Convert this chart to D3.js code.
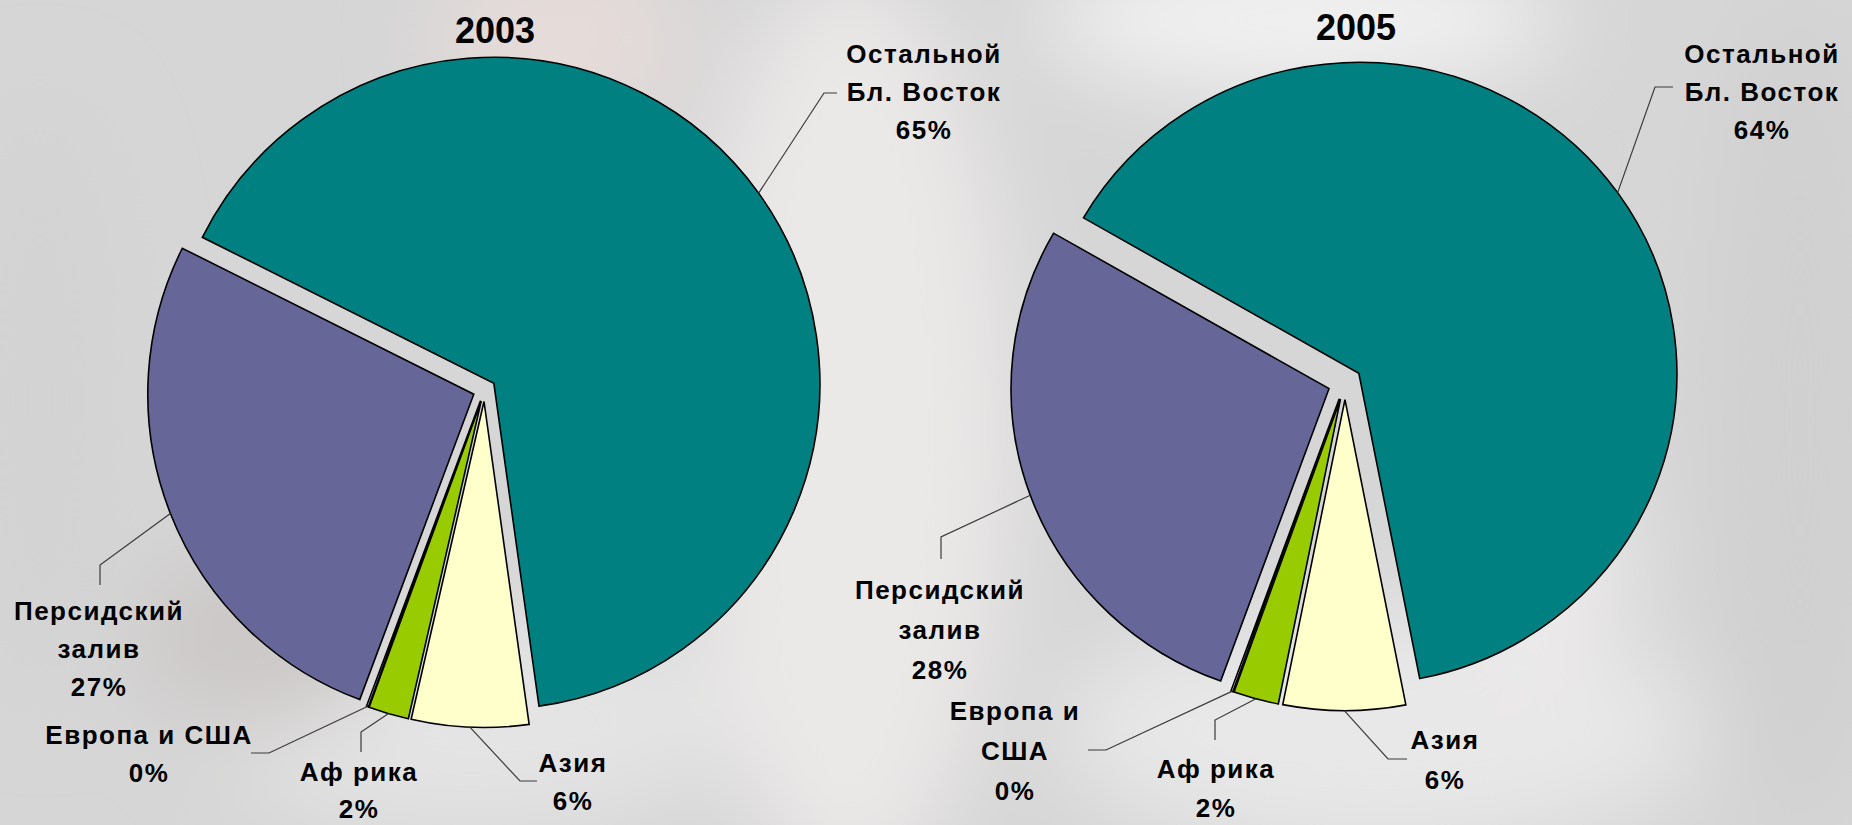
<!DOCTYPE html>
<html>
<head>
<meta charset="utf-8">
<script src="https://cdn.jsdelivr.net/npm/d3@7/dist/d3.min.js"></script>
<style>
  html, body { margin: 0; padding: 0; overflow: hidden; }
  text { font-family: "Liberation Sans", Arial, sans-serif; font-weight: bold; fill: #000; }
</style>
</head>
<body>
<div id="chart-area"></div>
<script>
// data
const years = ["2003", "2005"];
const categories = ["Остальной Бл. Восток", "Азия", "Африка", "Европа и США", "Персидский залив"];
const labels2003 = [["Остальной", "Бл. Восток"], ["Азия"], ["Аф рика"], ["Европа и США"], ["Персидский", "залив"]];
const labels2005 = [["Остальной", "Бл. Восток"], ["Азия"], ["Аф рика"], ["Европа и", "США"], ["Персидский", "залив"]];
const shares2003 = [65.4, 5.8, 2.0, 0.1, 26.7];
const shares2005 = [63.6, 6.2, 2.3, 0.1, 27.8];
const sliceColors = ["#008080", "#ffffcc", "#99cc00", "#ffffff", "#666699"];

// canvas
const canvasWidth = 1852;
const canvasHeight = 825;
const rad = Math.PI / 180;

// layout for both pies (centre, radius, explosion, vertical squash, first slice angle)
const pieLayout = [
    {cx: 484.5, cy: 390, r: 326, explode: 11.5, sy: 1, start: 296.6, titleX: 495, titleY: 43, lh: 38,
     // elbow x,y ; end x,y ; text x, first baseline
     labels: [
        {ex: 824, ey: 93, tx: 837, ty: 93, x: 924, y: 63},
        {ex: 520, ey: 781, tx: 537, ty: 781, x: 573, y: 772},
        {ex: 361, ey: 732, tx: 361, ty: 752, x: 359, y: 781, lh: 37},
        {ex: 269, ey: 753, tx: 251, ty: 753, x: 149, y: 744},
        {ex: 100, ey: 565, tx: 100, ty: 585, x: 99, y: 620}
     ]},
    {cx: 1345, cy: 383, r: 318, explode: 17, sy: 0.978, start: 300, titleX: 1356, titleY: 40, lh: 40,
     labels: [
        {ex: 1655, ey: 87, tx: 1673, ty: 87, x: 1762, y: 63, lh: 38},
        {ex: 1388, ey: 759, tx: 1407, ty: 759, x: 1445, y: 749},
        {ex: 1215, ey: 720, tx: 1215, ty: 740, x: 1216, y: 778, lh: 39},
        {ex: 1106, ey: 750, tx: 1088, ty: 750, x: 1015, y: 720},
        {ex: 941, ey: 537, tx: 941, ty: 559, x: 940, y: 599}
     ]}
];

const svg = d3.select("#chart-area")
    .append("svg")
        .attr("width", canvasWidth)
        .attr("height", canvasHeight);

// blurred photo-like backdrop
const defs = svg.append("defs");
defs.append("filter")
    .attr("id", "soft")
    .attr("x", "-50%").attr("y", "-50%").attr("width", "200%").attr("height", "200%")
    .append("feGaussianBlur").attr("stdDeviation", 45);

svg.append("rect")
    .attr("width", canvasWidth)
    .attr("height", canvasHeight)
    .attr("fill", "#d6d6d6");

const blobs = [
    [850, 430, 160, 460, "#ebe9e8"],
    [1300, 20, 260, 70, "#f3f2f2"],
    [560, 40, 120, 90, "#e6dcd9"],
    [470, 720, 260, 110, "#e4e4e4"],
    [1380, 730, 320, 120, "#e9e8e8"],
    [1540, 560, 90, 120, "#eceaea"],
    [260, 640, 120, 90, "#cbc8c6"],
    [1800, 420, 90, 420, "#d0d0d0"],
    [40, 400, 80, 300, "#d3d3d3"]
];
svg.append("g")
    .attr("filter", "url(#soft)")
    .selectAll("ellipse")
    .data(blobs)
    .enter().append("ellipse")
        .attr("cx", d => d[0])
        .attr("cy", d => d[1])
        .attr("rx", d => d[2])
        .attr("ry", d => d[3])
        .attr("fill", d => d[4]);

const allShares = [shares2003, shares2005];
const allLabels = [labels2003, labels2005];

pieLayout.forEach((lay, p) => {
    const shares = allShares[p];

    const pie = d3.pie()
        .sort(null)
        .value(d => d)
        .startAngle(lay.start * rad)
        .endAngle(lay.start * rad + 2 * Math.PI);

    const arc = d3.arc().innerRadius(0).outerRadius(lay.r);
    const edgeArc = d3.arc().innerRadius(lay.r).outerRadius(lay.r);

    const arcs = pie(shares);

    // offset of an exploded slice
    const shift = d => {
        const mid = (d.startAngle + d.endAngle) / 2;
        return [lay.explode * Math.sin(mid), -lay.explode * Math.cos(mid)];
    };

    const g = svg.append("g")
        .attr("transform", "translate(" + lay.cx + "," + lay.cy + ") scale(1," + lay.sy + ")");

    g.selectAll("path")
        .data(arcs)
        .enter().append("path")
            .attr("transform", d => "translate(" + shift(d) + ")")
            .attr("d", arc)
            .attr("fill", (d, i) => sliceColors[i])
            .attr("stroke", "#000")
            .attr("stroke-width", 1.6)
            .attr("stroke-linejoin", "miter");

    // title
    svg.append("text")
        .attr("x", lay.titleX)
        .attr("y", lay.titleY)
        .attr("text-anchor", "middle")
        .attr("font-size", "36px")
        .text(years[p]);

    // leader lines and labels
    arcs.forEach((d, i) => {
        const s = shift(d);
        const c = edgeArc.centroid(d);
        const px = lay.cx + c[0] + s[0];
        const py = lay.cy + (c[1] + s[1]) * lay.sy;
        const L = lay.labels[i];

        svg.append("polyline")
            .attr("points", [[px, py], [L.ex, L.ey], [L.tx, L.ty]].join(" "))
            .attr("fill", "none")
            .attr("stroke", "#3a3a3a")
            .attr("stroke-width", 1.2);

        const lines = allLabels[p][i].concat([Math.round(d.data) + "%"]);
        const lh = L.lh || lay.lh;
        const txt = svg.append("text")
            .attr("text-anchor", "middle")
            .attr("font-size", "26px")
            .attr("letter-spacing", "1.5px");
        lines.forEach((ln, k) => {
            txt.append("tspan")
                .attr("x", L.x)
                .attr("y", L.y + k * lh)
                .text(ln);
        });
    });
});
</script>
</body>
</html>
